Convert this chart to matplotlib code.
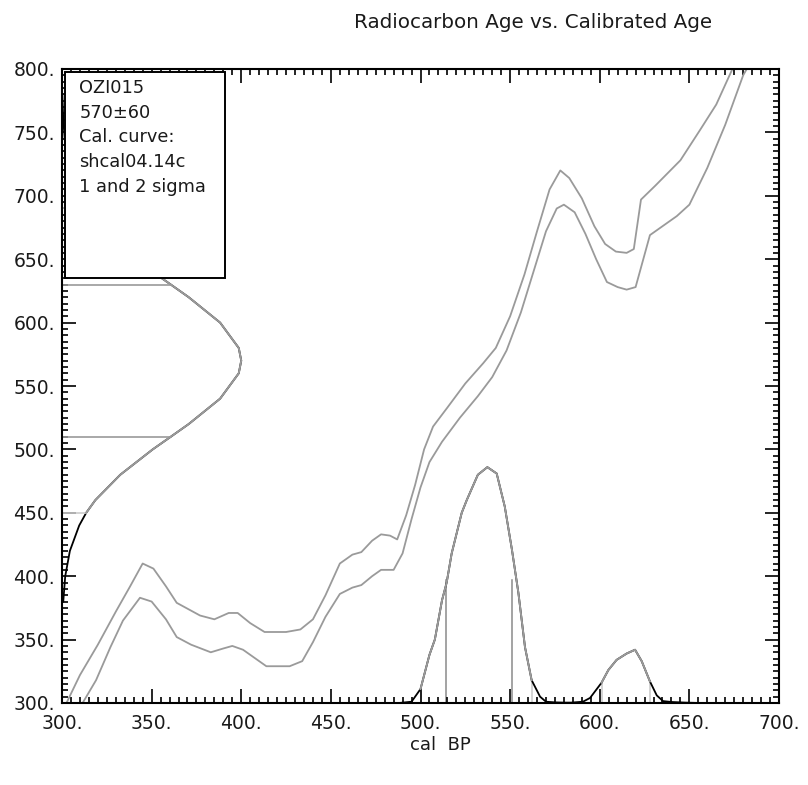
import numpy as np
import matplotlib
matplotlib.use("Agg")
import matplotlib.pyplot as plt
from matplotlib.ticker import MultipleLocator, FuncFormatter
from matplotlib.patches import Rectangle

# ---------------- data ----------------
# calibration curve envelope (cal BP, 14C age)
upper_x = [302.5, 310, 320, 330, 338, 345, 351, 358, 364, 377, 385, 393, 398, 405, 413, 425, 433, 440,
           447, 455, 462, 467, 473, 478, 483, 487, 492, 497, 502, 507, 515, 525, 535, 542, 550, 558,
           565, 572, 578, 583, 590, 597, 603, 609, 615, 619, 623, 631, 645, 656, 665, 674]
upper_y = [300, 322, 346, 372, 392, 410, 406, 392, 379, 369, 366, 371, 371, 363, 356, 356, 358, 366,
           385, 410, 417, 419, 428, 433, 432, 429, 448, 472, 500, 518, 533, 552, 568, 580, 605, 638,
           672, 705, 720, 714, 698, 676, 662, 656, 655, 658, 697, 708, 728, 752, 772, 800]
lower_x = [311.5, 319, 327, 334, 343.5, 350, 358, 364, 372, 383, 390, 395, 401, 408, 414, 427, 434, 440,
           447, 455, 462, 467, 473, 478, 485, 490, 495, 500, 505, 512, 522, 532, 540, 548, 556, 563,
           570, 576, 580, 586, 592, 598, 604, 610, 615, 620, 628, 636, 643, 650, 660, 670, 680, 682]
lower_y = [300, 318, 344, 365, 383, 380, 366, 352, 346, 340, 343, 345, 342, 335, 329, 329, 333, 348,
           368, 386, 391, 393, 400, 405, 405, 418, 445, 470, 490, 506, 525, 542, 557, 578, 608, 640,
           672, 690, 693, 687, 670, 650, 632, 628, 626, 628, 669, 677, 684, 693, 722, 756, 795, 800]

# radiocarbon age distribution (570 +/- 60) drawn along the y axis
rc_age = [380, 400, 420, 440, 450, 460, 480, 500, 510, 520, 540, 560, 570, 580, 600, 620, 630, 640,
          660, 680, 690, 700, 720, 740, 760, 780]
rc_prob = [300.7, 301.8, 304.4, 309.6, 313.5, 318.6, 332.5, 350.6, 360.7, 370.7, 388.2, 398.6, 400,
           398.6, 388.2, 370.7, 360.7, 350.6, 332.5, 318.6, 313.5, 309.6, 304.4, 301.8, 300.7, 300.2]
sig1_age = [510, 630]
sig2_age = [450, 690]

# calibrated age distribution along the x axis
cal_x = [488, 495, 500, 505, 508, 512, 514.6, 517.4, 523, 525.8, 532, 537.3, 542.5, 547, 551, 554.6,
         558.3, 562, 566.7, 570, 575, 580, 584, 590.6, 594.6, 601, 604.8, 609.4, 615, 619.7, 623.4,
         628, 631.8, 635.3, 640, 648, 656]
cal_p = [300, 301, 311, 338, 350, 381, 395, 418, 450, 460, 480, 486, 481, 455, 421, 387, 344, 318,
         305, 301, 300.5, 300.3, 300.3, 301, 304, 316, 326, 334, 339, 342, 333, 317, 306, 301.5, 300.8,
         300.3, 300]
cal_2s_lo = [500, 601]
cal_2s_hi = [562, 628]
cal_1s = [514, 551]
cal_1s_top = [397, 397]
cal_2s_top = [[311, 318], [316, 317]]

legend_lines = ["OZI015", "570\u00b160", "Cal. curve:", "shcal04.14c", "1 and 2 sigma"]

# ---------------- figure ----------------
plt.rcParams['font.family'] = ['DejaVu Sans']
fig = plt.figure(figsize=(8.08, 7.85), dpi=100)
ax = fig.add_axes([62/808, 1-703/785, 717/808, 634/785])
ax.set_xlim(300, 700)
ax.set_ylim(300, 800)

grey = '#9a9a9a'
light = '#cccccc'

ax.plot(upper_x, upper_y, color=grey, lw=1.3, zorder=2)
ax.plot(lower_x, lower_y, color=grey, lw=1.3, zorder=2)

# radiocarbon distribution
rc_age_a = np.array(rc_age); rc_prob_a = np.array(rc_prob)
ax.plot(rc_prob_a, rc_age_a, color='black', lw=1.3, zorder=2)
m = (rc_age_a >= sig2_age[0]) & (rc_age_a <= sig2_age[1])
ax.plot(rc_prob_a[m], rc_age_a[m], color=grey, lw=1.4, zorder=3)
for a in sig1_age:
    ax.plot([300, np.interp(a, rc_age_a, rc_prob_a)], [a, a], color=grey, lw=1.2, zorder=2)
for a in sig2_age:
    ax.plot([300, np.interp(a, rc_age_a, rc_prob_a)], [a, a], color=light, lw=1.2, zorder=2)

# calibrated distribution
cx = np.array(cal_x); cp = np.array(cal_p)
ax.plot(cx, cp, color='black', lw=1.3, zorder=2)
for lo, hi, tops in zip(cal_2s_lo, cal_2s_hi, cal_2s_top):
    mm = (cx >= lo) & (cx <= hi)
    ax.plot(cx[mm], cp[mm], color=grey, lw=1.4, zorder=3)
    ax.plot([lo, lo], [300, tops[0]], color=light, lw=1.2, zorder=1)
    ax.plot([hi, hi], [300, tops[1]], color=light, lw=1.2, zorder=1)
for xv, tp in zip(cal_1s, cal_1s_top):
    ax.plot([xv, xv], [300, tp], color='#8a8a8a', lw=1.1, zorder=1)

# legend box
box = Rectangle((0.004, 0.670), 0.223, 0.325, transform=ax.transAxes, facecolor='white',
                edgecolor='black', lw=1.4, zorder=5)
ax.add_patch(box)
for i, t in enumerate(legend_lines):
    ax.text(0.024, 0.970 - i*0.039, t, transform=ax.transAxes, fontsize=12.8, va='center', ha='left',
            zorder=6, color='#1a1a1a')

# axes styling
for s in ax.spines.values():
    s.set_linewidth(1.5)
ax.xaxis.set_major_locator(MultipleLocator(50))
ax.xaxis.set_minor_locator(MultipleLocator(5))
ax.yaxis.set_major_locator(MultipleLocator(50))
ax.yaxis.set_minor_locator(MultipleLocator(5))
fmt = FuncFormatter(lambda v, p: f"{int(round(v))}.")
ax.xaxis.set_major_formatter(fmt)
ax.yaxis.set_major_formatter(fmt)
ax.tick_params(which='both', direction='in', top=True, right=True, width=1.2, colors='black')
ax.tick_params(which='major', length=10, labelsize=13.5)
ax.tick_params(axis='x', which='major', pad=8)
ax.tick_params(axis='y', which='major', pad=5)
ax.tick_params(which='minor', length=4)
for lab in ax.get_xticklabels() + ax.get_yticklabels():
    lab.set_color('#1a1a1a')

fig.text(533/808, 1-22/785, "Radiocarbon Age vs. Calibrated Age", ha='center', va='center',
         fontsize=14.3, color='#1a1a1a')
fig.text(440/808, 1-745/785, "cal  BP", ha='center', va='center', fontsize=13, color='#1a1a1a')

fig.savefig("out.png", dpi=100)
